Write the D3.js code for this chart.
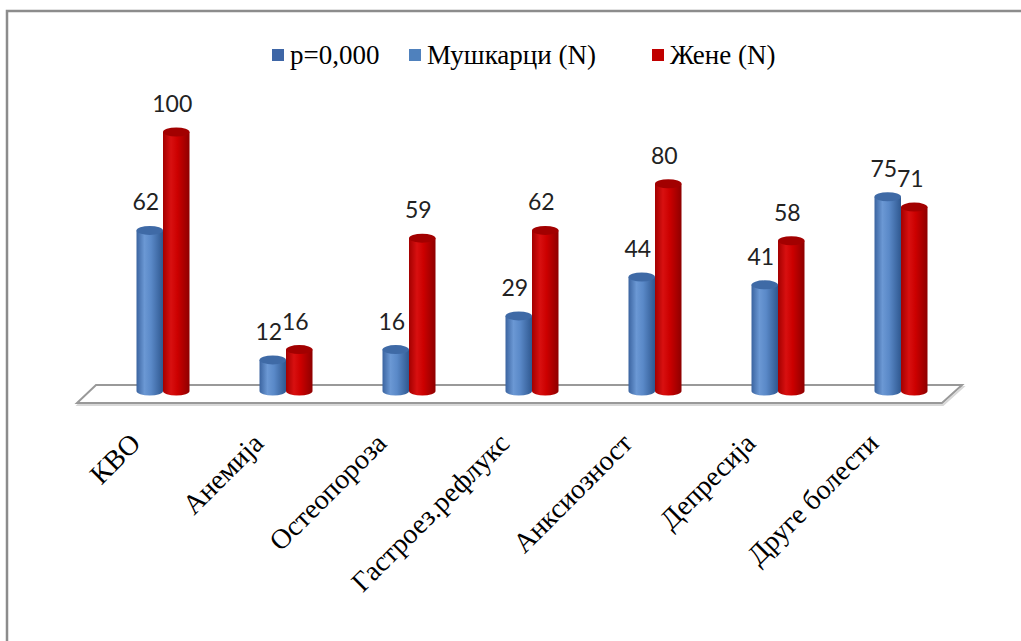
<!DOCTYPE html>
<html>
<head>
<meta charset="utf-8">
<script src="https://cdn.jsdelivr.net/npm/d3@7"></script>
<style>
  html, body { margin: 0; padding: 0; background: #fff; }
  svg { display: block; }
</style>
</head>
<body>
<svg id="chart" width="1021" height="641"></svg>
<script>
// Categories and values per sex
const categories = ["КВО", "Анемија", "Остеопороза", "Гастроез.рефлукс", "Анксиозност", "Депресија", "Друге болести"];
const men   = [62, 12, 16, 29, 44, 41, 75];
const women = [100, 16, 59, 62, 80, 58, 71];
const seriesNames = ["Мушкарци (N)", "Жене (N)"];
const legendItems = ["p=0,000", "Мушкарци (N)", "Жене (N)"];

const SERIF = '"Liberation Serif", "Times New Roman", serif';
const SANS = 'Lato, "Open Sans", sans-serif';

const svg = d3.select("#chart");
const defs = svg.append("defs");

// outer frame (runs off the right and bottom edges)
svg.append("rect")
  .attr("x", 7).attr("y", 11).attr("width", 1040).attr("height", 660)
  .attr("fill", "none").attr("stroke", "#8c8c8c").attr("stroke-width", 2.5);

const x = d3.scaleBand().domain(categories).range([101.5, 962.5]).padding(0);
const sub = d3.scaleBand().domain(seriesNames).range([-26.5, 26.5]).padding(0);
const y = d3.scaleLinear().domain([0, 100]).range([391, 132]);

// cylinder shading
function grad(id, stops) {
  const g = defs.append("linearGradient").attr("id", id)
    .attr("x1", "0%").attr("x2", "100%").attr("y1", "0%").attr("y2", "0%");
  stops.forEach(([o, c]) => g.append("stop").attr("offset", o).attr("stop-color", c));
}
grad("gBlue", [["0%", "#3b64a0"], ["30%", "#6b98d4"], ["55%", "#5a89c8"], ["100%", "#2f5890"]]);
grad("gRed",  [["0%", "#a30000"], ["30%", "#d81010"], ["55%", "#cc0000"], ["100%", "#8e0000"]]);
const topFill = { "Мушкарци (N)": "#3f6aa6", "Жене (N)": "#a20000" };
const bodyFill = { "Мушкарци (N)": "url(#gBlue)", "Жене (N)": "url(#gRed)" };

// floor
const floorBackY = 385, floorFrontY = 403;
const floorPts = [[96, floorBackY], [962, floorBackY], [942, floorFrontY], [77, floorFrontY]];
svg.append("polygon")
  .attr("points", floorPts.map(p => p.join(",")).join(" "))
  .attr("transform", "translate(1,2)")
  .attr("fill", "none").attr("stroke", "#d8d8d8").attr("stroke-width", 2);
svg.append("polygon")
  .attr("points", floorPts.map(p => p.join(",")).join(" "))
  .attr("fill", "#fff").attr("stroke", "#999").attr("stroke-width", 2);

const ry = 4.5;
const rows = [];
categories.forEach((c, i) => {
  rows.push({ cat: c, s: seriesNames[0], v: men[i] });
  rows.push({ cat: c, s: seriesNames[1], v: women[i] });
});

const bars = svg.append("g").selectAll("g").data(rows).join("g");
bars.each(function (d) {
  const g = d3.select(this);
  const x0 = x(d.cat) + x.bandwidth() / 2 + sub(d.s);
  const w = sub.bandwidth();
  const rx = w / 2;
  const yb = y(0), yt = y(d.v);
  g.append("path")
    .attr("d", `M${x0},${yt} L${x0},${yb} A${rx},${ry} 0 0 0 ${x0 + w},${yb} L${x0 + w},${yt} Z`)
    .attr("fill", bodyFill[d.s]);
  g.append("ellipse")
    .attr("cx", x0 + rx).attr("cy", yt).attr("rx", rx).attr("ry", ry)
    .attr("fill", topFill[d.s]);
});

// value labels
svg.append("g").selectAll("text").data(rows).join("text")
  .attr("x", d => x(d.cat) + x.bandwidth() / 2 + sub(d.s) + sub.bandwidth() / 2 - 4)
  .attr("y", d => y(d.v) - 20)
  .attr("text-anchor", "middle")
  .style("font-family", SANS)
  .style("font-size", "23px")
  .attr("fill", "#222")
  .text(d => d.v);

// category labels
svg.append("g").selectAll("text").data(categories).join("text")
  .attr("transform", d => `translate(${x(d) + x.bandwidth() / 2 - 21},445) rotate(-45)`)
  .attr("text-anchor", "end")
  .style("font-family", SERIF)
  .style("font-size", "28px")
  .attr("fill", "#000")
  .text(d => d);

// legend
const legendColors = ["#3e66a6", "#4f81bd", "#c00000"];
const legendX = [272, 409, 652];
const lg = svg.append("g").selectAll("g").data(legendItems).join("g")
  .attr("transform", (d, i) => `translate(${legendX[i]},49)`);
lg.append("rect").attr("width", 12).attr("height", 12)
  .attr("fill", (d, i) => legendColors[i]);
lg.append("text").attr("x", 18).attr("y", 15)
  .style("font-family", SERIF)
  .style("font-size", "27px")
  .attr("fill", "#000")
  .text(d => d);
</script>
</body>
</html>
